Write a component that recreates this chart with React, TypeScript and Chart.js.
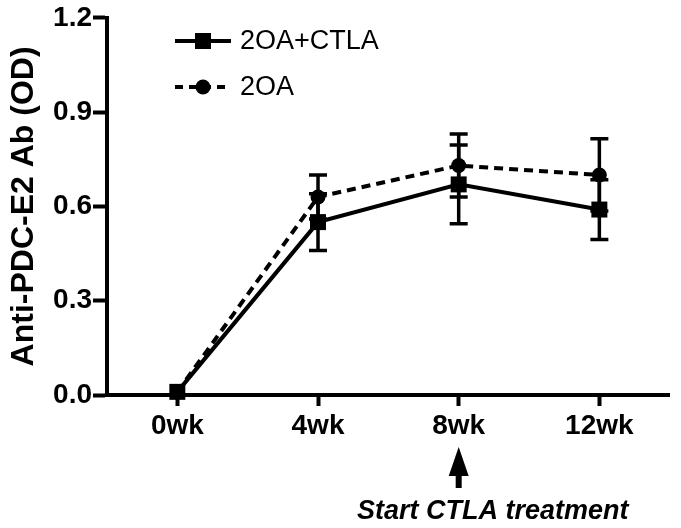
import React, { useEffect, useRef } from "react";
import { Chart, registerables } from "chart.js";

Chart.register(...registerables);

const categories = ["0wk", "4wk", "8wk", "12wk"];
const ctlaLabel = "2OA+CTLA";
const ctlaValues = [0.01, 0.55, 0.67, 0.59];
const ctlaErrors = [0.0, 0.09, 0.125, 0.095];
const oaLabel = "2OA";
const oaValues = [0.01, 0.63, 0.73, 0.7];
const oaErrors = [0.0, 0.07, 0.1, 0.115];
const yTicks = [0, 0.3, 0.6, 0.9, 1.2];
const yTitle = "Anti-PDC-E2 Ab (OD)";
const annotationText = "Start CTLA treatment";
const annotationCategory = "8wk";

const FONT = "'Liberation Sans', Arial, sans-serif";

const errorBarPlugin = {
  id: "errorBars",
  afterDatasetsDraw(chart: any) {
    const ctx = chart.ctx;
    const y = chart.scales.y;
    chart.data.datasets.forEach((ds: any, i: number) => {
      const meta = chart.getDatasetMeta(i);
      meta.data.forEach((pt: any, j: number) => {
        const e = ds.errors[j];
        if (!e) return;
        const v = ds.data[j];
        const yt = y.getPixelForValue(v + e);
        const yb = y.getPixelForValue(v - e);
        ctx.save();
        ctx.strokeStyle = "#000";
        ctx.lineWidth = 3.5;
        ctx.setLineDash([]);
        ctx.beginPath();
        ctx.moveTo(pt.x, yt);
        ctx.lineTo(pt.x, yb);
        ctx.moveTo(pt.x - 9, yt);
        ctx.lineTo(pt.x + 9, yt);
        ctx.moveTo(pt.x - 9, yb);
        ctx.lineTo(pt.x + 9, yb);
        ctx.stroke();
        ctx.restore();
      });
    });
  },
};

const legendPlugin = {
  id: "customLegend",
  afterDraw(chart: any) {
    const ctx = chart.ctx;
    const rows = [
      { y: 41, dash: [] as number[], style: "rect", label: chart.data.datasets[0].label },
      { y: 87, dash: [8, 6], style: "circle", label: chart.data.datasets[1].label },
    ];
    rows.forEach((r) => {
      ctx.save();
      ctx.strokeStyle = "#000";
      ctx.fillStyle = "#000";
      ctx.lineWidth = 4;
      ctx.setLineDash(r.dash);
      ctx.beginPath();
      ctx.moveTo(175, r.y);
      ctx.lineTo(231, r.y);
      ctx.stroke();
      ctx.setLineDash([]);
      if (r.style === "rect") {
        ctx.fillRect(203 - 8, r.y - 8, 16, 16);
      } else {
        ctx.beginPath();
        ctx.arc(203, r.y, 7.5, 0, Math.PI * 2);
        ctx.fill();
      }
      ctx.font = `27px ${FONT}`;
      ctx.textBaseline = "middle";
      ctx.textAlign = "left";
      ctx.fillText(r.label, 240, r.y + 1);
      ctx.restore();
    });
  },
};

const arrowPlugin = {
  id: "arrowNote",
  afterDraw(chart: any) {
    const ctx = chart.ctx;
    const xs = chart.scales.x;
    const idx = categories.indexOf(annotationCategory);
    const x = xs.getPixelForValue(idx);
    ctx.save();
    ctx.fillStyle = "#000";
    ctx.beginPath();
    ctx.moveTo(x, 447);
    ctx.lineTo(x + 10, 476);
    ctx.lineTo(x - 10, 476);
    ctx.closePath();
    ctx.fill();
    ctx.fillRect(x - 3, 474, 6, 14);
    ctx.font = `italic bold 27px ${FONT}`;
    ctx.textAlign = "center";
    ctx.textBaseline = "alphabetic";
    ctx.fillText(annotationText, x + 34, 519);
    ctx.restore();
  },
};

export default function App() {
  const ref = useRef<HTMLCanvasElement | null>(null);
  useEffect(() => {
    document.body.style.margin = "0";
    const canvas = ref.current;
    if (!canvas) return;
    const chart = new Chart(canvas, {
      type: "line",
      data: {
        labels: categories,
        datasets: [
          {
            label: ctlaLabel,
            data: ctlaValues,
            errors: ctlaErrors,
            borderColor: "#000",
            backgroundColor: "#000",
            borderWidth: 4,
            pointStyle: "rect",
            pointRadius: 11.3,
            pointBorderWidth: 0,
            pointBackgroundColor: "#000",
            tension: 0,
            clip: false,
          } as any,
          {
            label: oaLabel,
            data: oaValues,
            errors: oaErrors,
            borderColor: "#000",
            backgroundColor: "#000",
            borderWidth: 4,
            borderDash: [9, 6],
            pointStyle: "circle",
            pointRadius: 7.5,
            pointBorderWidth: 0,
            pointBackgroundColor: "#000",
            tension: 0,
            clip: false,
          } as any,
        ],
      },
      options: {
        animation: false,
        responsive: false,
        devicePixelRatio: 1,
        layout: { padding: { top: 15, right: 8, bottom: 0, left: 0 } },
        plugins: {
          legend: { display: false },
          tooltip: { enabled: false },
          title: { display: false },
        },
        scales: {
          x: {
            type: "category",
            offset: true,
            grid: {
              display: true,
              drawOnChartArea: false,
              drawTicks: true,
              tickLength: 11,
              tickWidth: 4,
              tickColor: "#000",
              offset: false,
            },
            border: { display: true, color: "#000", width: 4 },
            ticks: {
              color: "#000",
              padding: 3,
              font: { family: FONT, size: 28, weight: "bold" },
              maxRotation: 0,
            },
            afterFit: (s: any) => {
              s.height = 133;
            },
          },
          y: {
            min: 0,
            max: 1.2,
            grid: {
              display: true,
              drawOnChartArea: false,
              drawTicks: true,
              tickLength: 14,
              tickWidth: 4,
              tickColor: "#000",
            },
            border: { display: true, color: "#000", width: 4 },
            afterBuildTicks: (s: any) => {
              s.ticks = yTicks.map((v) => ({ value: v }));
            },
            ticks: {
              color: "#000",
              padding: 1,
              font: { family: FONT, size: 28, weight: "bold" },
              callback: (v: any) => Number(v).toFixed(1),
            },
            title: {
              display: true,
              text: yTitle,
              color: "#000",
              font: { family: FONT, size: 32, weight: "bold" },
              padding: { top: 5, bottom: 0 },
            },
            afterFit: (s: any) => {
              s.width = 107;
            },
          },
        },
      },
      plugins: [errorBarPlugin, legendPlugin, arrowPlugin],
    } as any);
    return () => chart.destroy();
  }, []);
  return (
    <div style={{ width: 681, height: 528, background: "#fff" }}>
      <canvas ref={ref} width={681} height={528} />
    </div>
  );
}
